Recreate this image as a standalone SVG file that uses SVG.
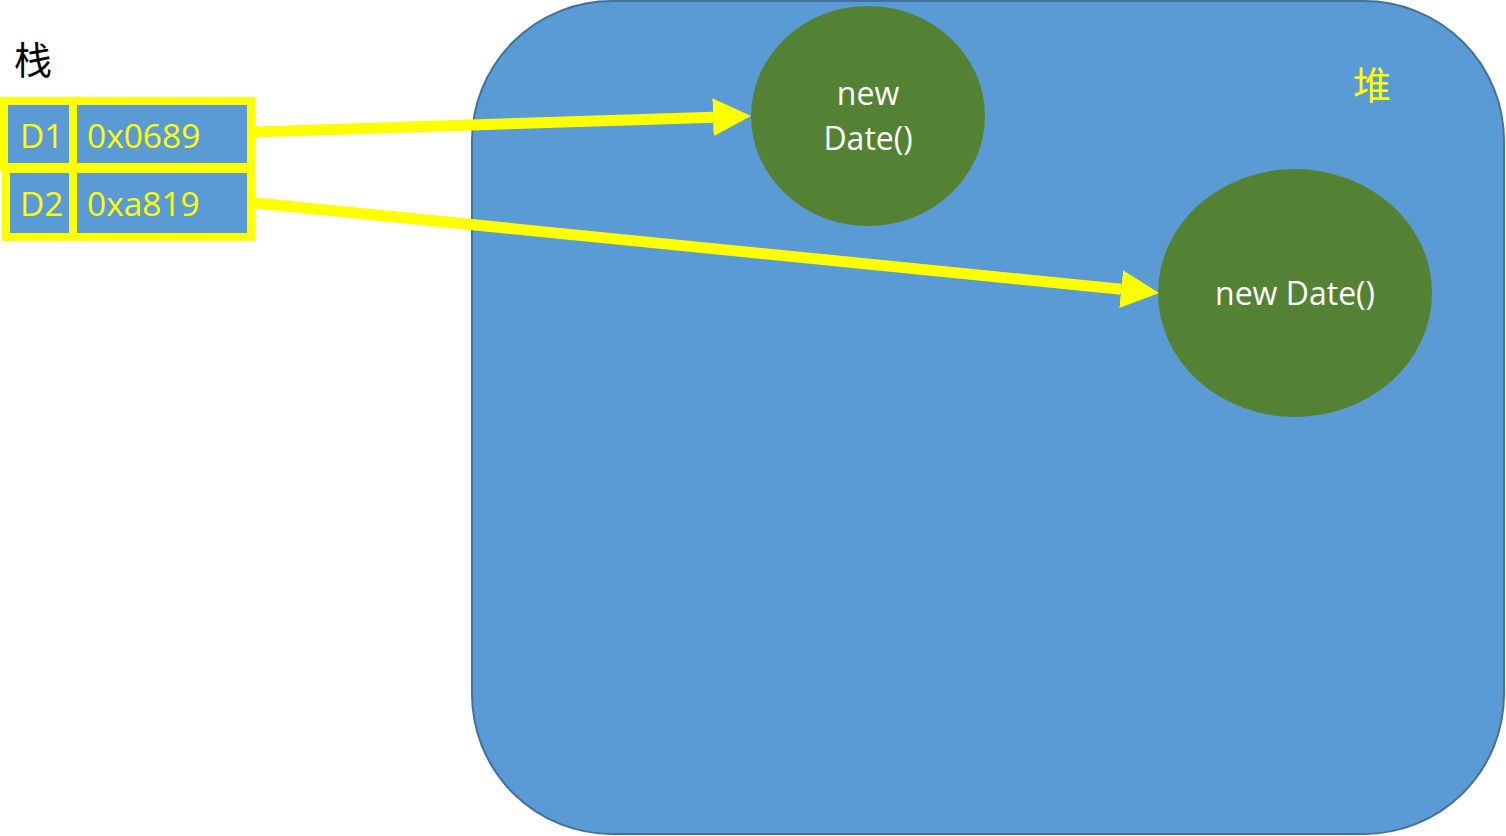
<svg xmlns="http://www.w3.org/2000/svg" width="1506" height="836" viewBox="0 0 1506 836">
<defs>
<style>
.cell{fill:#5B9BD5;stroke:#FFFF00;stroke-width:8}
.st{font-family:"Open Sans","Liberation Sans",Arial,sans-serif;font-size:33.5px;fill:#FFFF00}
.obj{fill:#548235}
.ot{font-family:"Open Sans","Liberation Sans",Arial,sans-serif;font-size:32px;fill:#FFFFFF;text-anchor:middle}
.cjk{font-family:"Noto Sans CJK SC","Noto Sans",sans-serif;font-size:38px}
.conn{stroke:#FFFF00;stroke-width:11;fill:none}
</style>
<marker id="ah" markerUnits="userSpaceOnUse" viewBox="0 0 38 38" refX="0" refY="19" markerWidth="38" markerHeight="38" orient="auto">
<path d="M0,0 L38,19 L0,38 Z" fill="#FFFF00"/>
</marker>
</defs>
<g id="heap">
<rect x="472" y="1" width="1032" height="833" rx="140" ry="140" fill="#5B9BD5" stroke="#41719C" stroke-width="2"/>
<text class="cjk" x="1353" y="99" fill="#FFFF00">堆</text>
</g>
<g id="stack-label">
<text class="cjk" x="14" y="74" fill="#000000">栈</text>
</g>
<g id="d1">
<rect class="cell" x="4" y="101" width="69" height="66"/>
<rect class="cell" x="73" y="101" width="178" height="66"/>
<text class="st" x="20" y="148">D1</text>
<text class="st" x="87" y="148">0x0689</text>
</g>
<g id="d2">
<rect class="cell" x="6" y="169" width="67" height="68"/>
<rect class="cell" x="73" y="169" width="178" height="68"/>
<text class="st" x="20" y="216">D2</text>
<text class="st" x="87" y="216">0xa819</text>
</g>
<g id="date1">
<ellipse class="obj" cx="868" cy="116" rx="117" ry="110"/>
<text class="ot" x="868" y="105">new</text>
<text class="ot" x="868" y="150">Date()</text>
</g>
<g id="date2">
<ellipse class="obj" cx="1295" cy="293" rx="137" ry="124"/>
<text class="ot" x="1295" y="305">new Date()</text>
</g>
<g id="connectors">
<line class="conn" x1="255" y1="132" x2="713" y2="117.2" marker-end="url(#ah)"/>
<line class="conn" x1="255" y1="203" x2="1121.2" y2="289.2" marker-end="url(#ah)"/>
</g>
</svg>
